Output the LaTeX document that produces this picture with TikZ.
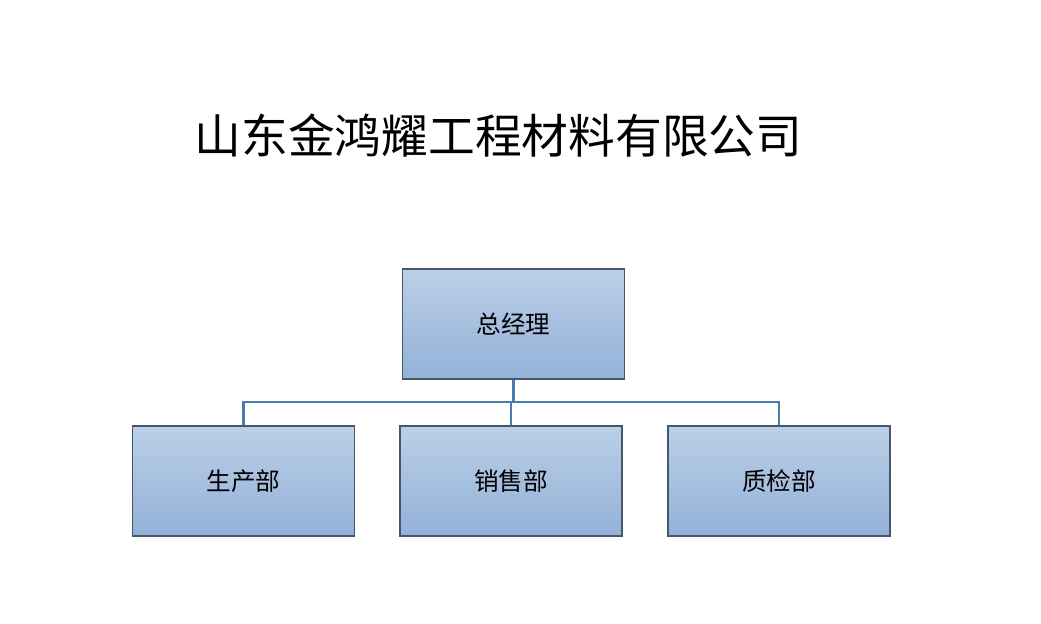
\documentclass[tikz,border=0pt]{standalone}
\usepackage{fontspec}
\setmainfont{Noto Sans CJK SC}
\newfontfamily\cjk{Noto Sans CJK SC}
\usepackage{xcolor}
\usepackage{tikz}
\usetikzlibrary{positioning,calc}
\definecolor{otop}{HTML}{BBCFE7}
\definecolor{obot}{HTML}{93B1D8}
\definecolor{oedge}{HTML}{46566C}
\definecolor{oline}{HTML}{4A7CAE}
\tikzset{
  obox/.style={rectangle, draw=oedge, line width=0.8pt,
               top color=otop, bottom color=obot,
               minimum width=4.44cm, minimum height=2.2cm,
               font=\cjk\fontsize{14}{16}\selectfont, inner sep=0pt},
  olink/.style={draw=oline, line width=1.6pt},
  otitle/.style={font=\cjk\fontsize{26.6}{30}\selectfont, inner sep=0pt},
}

\begin{document}
\begin{tikzpicture}[x=0.02cm,y=-0.02cm]

  \fill[white] (0,0) rectangle (1041,624);
  \useasboundingbox (0,0) rectangle (1041,624);

  \node[otitle] (t) at (498.5,136) {山东金鸿耀工程材料有限公司};

  \node[obox] (a) at (513.5,324) {总经理};
  \node[obox] (b) at (243.5,481) {生产部};
  \node[obox] (c) at (511,481)   {销售部};
  \node[obox] (d) at (779,481)   {质检部};

  % 连接线
  \coordinate (bus) at (0,402);
  \draw[olink] (a.south) -- (a.south |- bus) -| (b.north);
  \draw[olink] (a.south |- bus) -| (c.north);
  \draw[olink] (a.south |- bus) -| (d.north);

\end{tikzpicture}
\end{document}
